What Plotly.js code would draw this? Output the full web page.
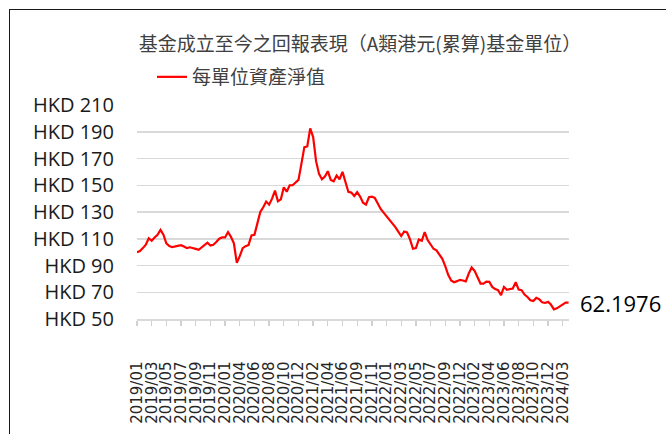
<!DOCTYPE html>
<html>
<head>
<meta charset="utf-8">
<script src="https://cdn.plot.ly/plotly-3.0.1.min.js"></script>
<style>
  html, body { margin: 0; padding: 0; background: #fff; }
  #wrap { position: relative; width: 666px; height: 434px; overflow: hidden; }
  #chart { position: absolute; left: 0; top: 0; width: 666px; height: 434px; }
  #frame { position: absolute; left: 9px; top: 9px; right: -10px; bottom: -10px;
           border-left: 1.5px solid #1a1a1a; border-top: 1.5px solid #1a1a1a; pointer-events: none; }
</style>
</head>
<body>
<div id="wrap">
  <div id="chart"></div>
  <div id="frame"></div>
</div>
<script>
// ---- data ----
const chartTitle = "基金成立至今之回報表現（A類港元(累算)基金單位）";
const seriesName = "每單位資產淨值";

// x-axis tick labels (evenly spaced categories)
const tickLabels = [
  "2019/01","2019/03","2019/05","2019/07","2019/09","2019/11",
  "2020/01","2020/04","2020/06","2020/08","2020/10","2020/12",
  "2021/02","2021/04","2021/06","2021/09","2021/11",
  "2022/01","2022/03","2022/05","2022/07","2022/09","2022/12",
  "2023/02","2023/04","2023/06","2023/08","2023/10","2023/12",
  "2024/03"
];
// number of NAV observations between consecutive tick labels
const pointsPerLabel = 5;

// NAV per unit (HKD)
const nav = [
  100.0, 100.8, 103.0, 105.5, 110.4, 108.5, 111.0, 113.0, 116.6, 113.0,
  106.5, 104.5, 103.7, 104.3, 105.0, 105.2, 104.2, 103.0, 103.6, 103.2,
  102.4, 101.7, 103.5, 105.0, 107.0, 105.0, 105.5, 107.5, 110.0, 111.0,
  111.0, 115.0, 111.5, 106.5, 92.0, 97.0, 103.0, 104.5, 105.4, 112.5,
  113.0, 121.5, 130.0, 133.5, 137.8, 135.5, 140.0, 146.0, 138.0, 139.5,
  148.5, 145.2, 150.0, 150.0, 151.8, 154.0, 166.0, 178.5, 179.0, 192.5,
  186.0, 168.0, 158.5, 154.5, 156.5, 160.5, 154.0, 153.0, 157.3, 154.5,
  160.0, 153.0, 145.0, 144.5, 142.0, 144.8, 141.5, 137.0, 135.5, 141.0,
  141.5, 140.5, 136.0, 132.3, 129.5, 127.0, 124.5, 121.8, 118.7, 115.3,
  112.0, 115.4, 114.7, 109.5, 102.5, 103.0, 109.5, 108.5, 115.0, 109.0,
  105.4, 102.5, 101.3, 98.5, 95.0, 89.5, 83.0, 78.8, 77.5, 78.3,
  79.3, 78.8, 78.1, 84.0, 88.5, 86.0, 81.5, 76.5, 76.5, 78.0,
  77.8, 74.0, 72.4, 71.5, 67.8, 74.0, 71.9, 72.5, 72.8, 77.5,
  72.0, 71.5, 68.3, 66.5, 64.0, 63.5, 65.8, 64.8, 62.5, 62.0,
  62.8, 60.8, 57.2, 58.0, 59.4, 60.8, 62.3, 62.1976
];

const yMin = 50, yMax = 210, yStep = 20;

// ---- build ----
const xIdx = nav.map((_, i) => i);
const tickVals = tickLabels.map((_, k) => k * pointsPerLabel);
const lastIdx = nav.length - 1;

const trace = {
  x: xIdx,
  y: nav,
  type: "scatter",
  mode: "lines",
  name: seriesName,
  line: { color: "#ff0000", width: 2.2 },
  hoverinfo: "skip"
};

const layout = {
  width: 666,
  height: 434,
  paper_bgcolor: "#ffffff",
  plot_bgcolor: "#ffffff",
  margin: { l: 137, r: 97, t: 105, b: 115, pad: 0, autoexpand: false },
  title: {
    text: chartTitle,
    font: { family: "Noto Sans CJK TC, sans-serif", size: 19, color: "#404040" },
    xref: "container", yref: "container",
    x: 360 / 666, xanchor: "center",
    y: 1 - 44 / 434, yanchor: "middle"
  },
  showlegend: true,
  legend: {
    xref: "container", yref: "container",
    x: 152 / 666, xanchor: "left",
    y: 1 - 77 / 434, yanchor: "middle",
    font: { family: "Noto Sans CJK TC, sans-serif", size: 19, color: "#404040" },
    bgcolor: "rgba(0,0,0,0)",
    borderwidth: 0
  },
  xaxis: {
    type: "linear",
    automargin: false,
    range: [0, lastIdx + 0.15],
    tickmode: "array",
    tickvals: tickVals,
    ticktext: tickLabels,
    tickangle: -90,
    ticks: "outside",
    ticklen: 5,
    tickwidth: 1.3,
    tickcolor: "#d0d0d0",
    ticklabelstandoff: 30,
    showline: true,
    linecolor: "#d9d9d9",
    linewidth: 1.5,
    showgrid: false,
    zeroline: false,
    tickfont: { family: "DejaVu Sans, sans-serif", size: 15, color: "#262626" }
  },
  yaxis: {
    automargin: false,
    range: [yMin, yMax],
    tick0: yMin,
    dtick: yStep,
    tickprefix: "HKD ",
    showgrid: true,
    gridcolor: "#d9d9d9",
    gridwidth: 1.5,
    zeroline: false,
    showline: false,
    ticks: "",
    ticklabelstandoff: 22,
    tickfont: { family: "Open Sans, sans-serif", size: 20, color: "#1a1a1a" }
  },
  annotations: [{
    x: lastIdx,
    y: nav[lastIdx],
    xref: "x", yref: "y",
    text: String(nav[lastIdx]),
    showarrow: false,
    xanchor: "left",
    yanchor: "middle",
    xshift: 9,
    font: { family: "Open Sans, sans-serif", size: 22, color: "#000000" }
  }]
};

Plotly.newPlot("chart", [trace], layout, { staticPlot: true, displayModeBar: false });
</script>
</body>
</html>
